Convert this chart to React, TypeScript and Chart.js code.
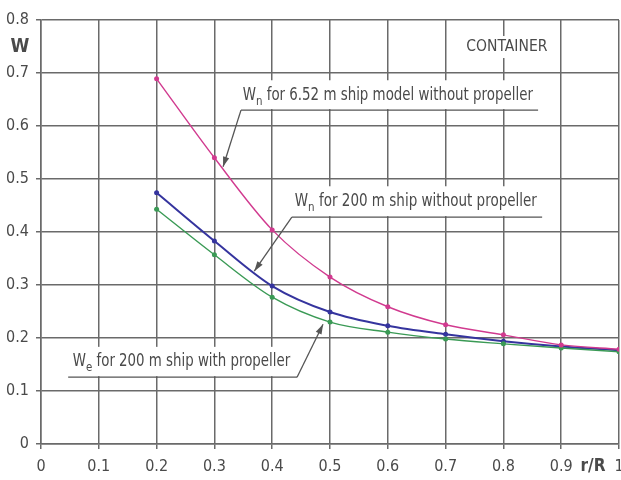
import React, { useEffect, useRef } from "react";
import { Chart, registerables } from "chart.js";

Chart.register(...registerables);

// ---- data ----
const rR = [0.2, 0.3, 0.4, 0.5, 0.6, 0.7, 0.8, 0.9, 1.0];
const wnModel = [0.689, 0.54, 0.404, 0.315, 0.259, 0.225, 0.206, 0.187, 0.179];
const wnShip = [0.474, 0.383, 0.298, 0.249, 0.223, 0.207, 0.194, 0.184, 0.177];
const weShip = [0.443, 0.357, 0.277, 0.23, 0.211, 0.198, 0.189, 0.181, 0.174];
const seriesNames = [
  "Wn for 6.52 m ship model without propeller",
  "Wn for 200 m ship without propeller",
  "We for 200 m ship with propeller",
];

const FONT = "'Liberation Sans Narrow', 'Arial Narrow', 'DejaVu Sans Condensed', 'Liberation Sans', sans-serif";
const TEXT = "#4a4a4a";
const GRID = "#6a6a6a";

// annotation callouts in data units: [main, sub, rest], text start/end, text centre, underline, leader tip
const callouts = [
  { main: "W", sub: "n", rest: " for 6.52 m ship model without propeller", tx: 0.349, tx1: 0.851, ty: 0.658, ux0: 0.346, ux1: 0.86, uy: 0.63, ax: 0.315, ay: 0.523, fromLeft: true },
  { main: "W", sub: "n", rest: " for 200 m ship without propeller", tx: 0.439, tx1: 0.858, ty: 0.458, ux0: 0.434, ux1: 0.867, uy: 0.428, ax: 0.369, ay: 0.326, fromLeft: true },
  { main: "W", sub: "e", rest: " for 200 m ship with propeller", tx: 0.055, tx1: 0.431, ty: 0.155, ux0: 0.047, ux1: 0.443, uy: 0.126, ax: 0.488, ay: 0.226, fromLeft: false },
];

function pts(ys: number[]) {
  return rR.map((x, i) => ({ x, y: ys[i] }));
}

const annotPlugin = {
  id: "annot",
  afterDraw(chart: any) {
    const ctx = chart.ctx as CanvasRenderingContext2D;
    const xs = chart.scales.x;
    const ys = chart.scales.y;
    ctx.save();
    for (const c of callouts) {
      const x0 = xs.getPixelForValue(c.tx);
      const x1 = xs.getPixelForValue(c.tx1);
      const yc = ys.getPixelForValue(c.ty);
      const uy = ys.getPixelForValue(c.uy);
      const ux0 = xs.getPixelForValue(c.ux0);
      const ux1 = xs.getPixelForValue(c.ux1);
      // white background
      ctx.fillStyle = "#ffffff";
      ctx.fillRect(ux0 + 2, yc - 15, ux1 - ux0 - 4, uy - (yc - 15) - 1);
      // measure
      ctx.font = `17px ${FONT}`;
      const wMain = ctx.measureText(c.main).width;
      const wRest = ctx.measureText(c.rest).width;
      ctx.font = `13px ${FONT}`;
      const wSub = ctx.measureText(c.sub).width;
      const k = (x1 - x0) / (wMain + wSub + wRest);
      ctx.save();
      ctx.translate(x0, yc);
      ctx.scale(k, 1);
      ctx.fillStyle = TEXT;
      ctx.textBaseline = "middle";
      ctx.textAlign = "left";
      ctx.font = `17px ${FONT}`;
      ctx.fillText(c.main, 0, 0);
      ctx.font = `13px ${FONT}`;
      ctx.fillText(c.sub, wMain, 6);
      ctx.font = `17px ${FONT}`;
      ctx.fillText(c.rest, wMain + wSub, 0);
      ctx.restore();
      // underline + leader
      ctx.strokeStyle = "#555555";
      ctx.lineWidth = 1.3;
      ctx.beginPath();
      ctx.moveTo(ux1, uy);
      ctx.lineTo(ux0, uy);
      ctx.stroke();
      const sx = c.fromLeft ? ux0 : ux1;
      const tx = xs.getPixelForValue(c.ax);
      const ty = ys.getPixelForValue(c.ay);
      ctx.beginPath();
      ctx.moveTo(sx, uy);
      ctx.lineTo(tx, ty);
      ctx.stroke();
      const ang = Math.atan2(ty - uy, tx - sx);
      const L = 10, H = 3.2;
      ctx.fillStyle = "#555555";
      ctx.beginPath();
      ctx.moveTo(tx, ty);
      ctx.lineTo(tx - L * Math.cos(ang) + H * Math.sin(ang), ty - L * Math.sin(ang) - H * Math.cos(ang));
      ctx.lineTo(tx - L * Math.cos(ang) - H * Math.sin(ang), ty - L * Math.sin(ang) + H * Math.cos(ang));
      ctx.closePath();
      ctx.fill();
    }
    // CONTAINER
    const cx = xs.getPixelForValue(0.806);
    const cy = ys.getPixelForValue(0.749);
    ctx.font = `16px ${FONT}`;
    const cw = ctx.measureText("CONTAINER").width;
    const ck = 81 / cw;
    ctx.fillStyle = "#ffffff";
    ctx.fillRect(cx - 43, cy - 11, 86, 22);
    ctx.save();
    ctx.translate(cx, cy);
    ctx.scale(ck, 1);
    ctx.fillStyle = TEXT;
    ctx.textAlign = "center";
    ctx.textBaseline = "middle";
    ctx.fillText("CONTAINER", 0, 0);
    ctx.restore();
    // axis titles
    ctx.fillStyle = TEXT;
    ctx.textAlign = "center";
    ctx.textBaseline = "middle";
    ctx.font = `bold 19px ${FONT}`;
    ctx.fillText("W", 20, ys.getPixelForValue(0.75) + 1);
    ctx.font = `bold 17px ${FONT}`;
    ctx.fillText("r/R", xs.getPixelForValue(0.955), xs.bottom - 13);
    ctx.restore();
  },
};

export default function App() {
  const ref = useRef<HTMLCanvasElement | null>(null);
  useEffect(() => {
    document.body.style.margin = "0";
    const canvas = ref.current!;
    const mk = (label: string, data: number[], color: string, width: number) => ({
      label,
      data: pts(data),
      borderColor: color,
      backgroundColor: color,
      borderWidth: width,
      pointRadius: 2.5,
      pointBorderWidth: 0,
      cubicInterpolationMode: "monotone" as const,
      fill: false,
    });
    const chart = new Chart(canvas, {
      type: "line",
      data: {
        datasets: [
          mk(seriesNames[0], wnModel, "#d13a8f", 1.4),
          mk(seriesNames[2], weShip, "#3a9a55", 1.4),
          mk(seriesNames[1], wnShip, "#35349e", 2),
        ],
      },
      options: {
        animation: false,
        responsive: false,
        devicePixelRatio: 1,
        layout: { padding: { top: 20, right: 2, left: 0, bottom: 0 }, autoPadding: false } as any,
        plugins: { legend: { display: false }, tooltip: { enabled: false } },
        scales: {
          x: {
            type: "linear",
            min: 0,
            max: 1,
            ticks: {
              stepSize: 0.1,
              color: TEXT,
              font: { family: FONT, size: 16 },
              padding: 8,
              maxRotation: 0,
              autoSkip: false,
              callback: (v: any) => String(+Number(v).toFixed(1)),
            },
            grid: { color: GRID, lineWidth: 1.5, tickLength: 5, drawTicks: true },
            border: { color: GRID, width: 1.5 },
            afterFit: (s: any) => { s.height = 36; s.paddingLeft = 0; s.paddingRight = 0; },
          },
          y: {
            min: 0,
            max: 0.8,
            ticks: {
              stepSize: 0.1,
              color: TEXT,
              font: { family: FONT, size: 16 },
              padding: 7,
              callback: (v: any) => String(+Number(v).toFixed(1)),
            },
            grid: { color: GRID, lineWidth: 1.5, tickLength: 5, drawTicks: true },
            border: { color: GRID, width: 1.5 },
            afterFit: (s: any) => { s.width = 41; s.paddingTop = 0; s.paddingBottom = 0; },
          },
        },
      },
      plugins: [annotPlugin],
    });
    return () => chart.destroy();
  }, []);
  return (
    <div style={{ position: "fixed", left: 0, top: 0, width: 621, height: 480, background: "#fff" }}>
      <canvas ref={ref} width={621} height={480} style={{ display: "block" }} />
    </div>
  );
}
